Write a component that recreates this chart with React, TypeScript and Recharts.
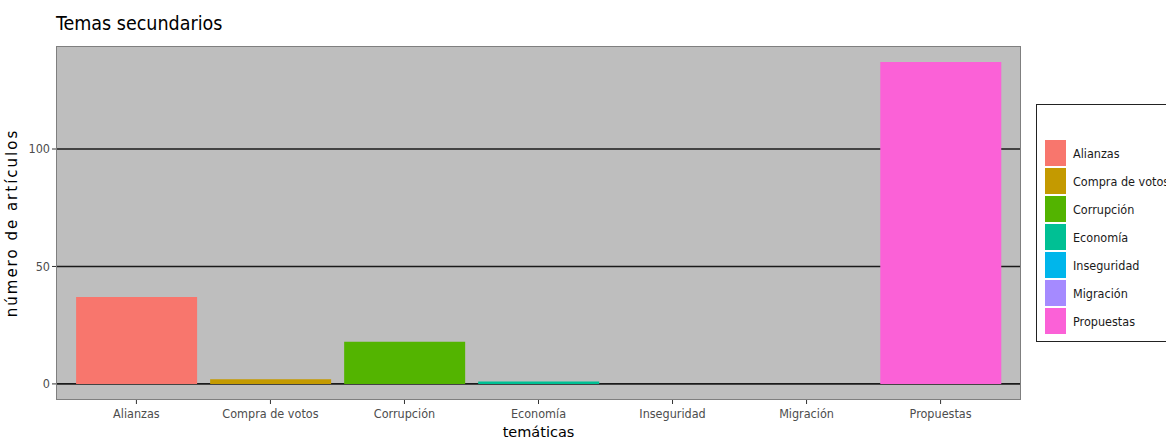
import React from 'react';
import { BarChart, Bar, XAxis, YAxis, CartesianGrid, Cell } from 'recharts';

const categories = ['Alianzas', 'Compra de votos', 'Corrupción', 'Economía', 'Inseguridad', 'Migración', 'Propuestas'];
const counts = [37, 2, 18, 1, 0, 0, 137];
const colors = ['#F8766D', '#C49A00', '#53B400', '#00C094', '#00B6EB', '#A58AFF', '#FB61D7'];
const yTicks = [0, 50, 100];

const data = categories.map((c, i) => ({ tema: c, n: counts[i] }));

const COND = '"DejaVu Sans Condensed", "DejaVu Sans", sans-serif';
const SANS = '"DejaVu Sans", sans-serif';

const LegendBox = () => (
  <div
    style={{
      position: 'absolute',
      left: 1036,
      top: 104,
      width: 140,
      height: 238,
      border: '1.5px solid #222',
      background: '#fff',
      boxSizing: 'border-box',
      fontFamily: COND,
      fontSize: 12.5,
      color: '#1a1a1a',
    }}
  >
    {categories.map((c, i) => (
      <div key={c} style={{ position: 'absolute', left: 8, top: 34 + i * 28, height: 28, display: 'flex', alignItems: 'center' }}>
        <div style={{ width: 21, height: 26, background: colors[i] }} />
        <span style={{ marginLeft: 7, whiteSpace: 'nowrap' }}>{c}</span>
      </div>
    ))}
  </div>
);

const XTick = (props: any) => {
  const { x, y, payload } = props;
  return (
    <text x={x} y={y + 12} textAnchor="middle" fill="#4d4d4d" fontSize={12.5} fontFamily={COND}>
      {payload.value}
    </text>
  );
};

export default function App() {
  return (
    <div style={{ position: 'absolute', left: 0, top: 0, width: 1166, height: 440, background: '#fff', overflow: 'hidden' }}>
      <div style={{ position: 'absolute', left: 56, top: 12, fontFamily: COND, fontSize: 19.5, color: '#000' }}>Temas secundarios</div>
      <BarChart
        width={1166}
        height={440}
        data={data}
        margin={{ top: 46, right: 145, bottom: 20, left: 0 }}
        barCategoryGap="5%"
      >
        <CartesianGrid vertical={false} horizontal={true} fill="#BEBEBE" stroke="#1a1a1a" strokeWidth={1.6} horizontalValues={yTicks} />
        <XAxis
          dataKey="tema"
          type="category"
          padding={{ left: 13.4, right: 13.4 }}
          height={20}
          axisLine={false}
          tickLine={{ stroke: '#333', strokeWidth: 1 }}
          tickSize={4}
          tick={<XTick />}
          interval={0}
          label={{ value: 'temáticas', position: 'bottom', offset: 7, style: { fontFamily: SANS, fontSize: 14.5, fill: '#000' } }}
        />
        <YAxis
          type="number"
          domain={[-6.85, 143.85]}
          allowDataOverflow
          ticks={yTicks}
          width={56}
          axisLine={false}
          tickLine={{ stroke: '#333', strokeWidth: 1 }}
          tickSize={4}
          tick={{ fill: '#4d4d4d', fontSize: 12.5, fontFamily: COND }}
          label={{ value: 'número de artículos', angle: -90, position: 'insideLeft', offset: 12, style: { fontFamily: SANS, fontSize: 15, letterSpacing: 2, fill: '#000', textAnchor: 'middle' } }}
        />
        <Bar dataKey="n" isAnimationActive={false}>
          {data.map((d, i) => (
            <Cell key={d.tema} fill={colors[i]} />
          ))}
        </Bar>
      </BarChart>
      <div
        style={{
          position: 'absolute',
          left: 56,
          top: 46,
          width: 965,
          height: 354,
          border: '1.5px solid #7f7f7f',
          boxSizing: 'border-box',
          pointerEvents: 'none',
        }}
      />
      <LegendBox />
    </div>
  );
}
